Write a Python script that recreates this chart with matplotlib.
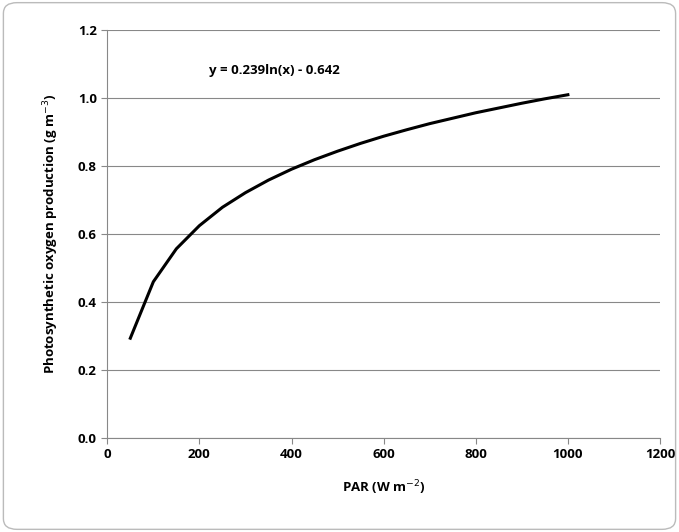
import matplotlib.pyplot as plt
from matplotlib.patches import FancyBboxPatch

par = [50, 100, 150, 200, 250, 300, 350, 400, 450, 500, 550, 600, 650, 700,
       750, 800, 850, 900, 950, 1000]
oxygen = [0.293, 0.459, 0.556, 0.624, 0.678, 0.721, 0.758, 0.790, 0.818, 0.843,
          0.866, 0.887, 0.906, 0.924, 0.940, 0.956, 0.970, 0.984, 0.997, 1.009]
equation = "y = 0.239ln(x) - 0.642"

plt.rcParams['font.family'] = ['Open Sans', 'DejaVu Sans']

fig = plt.figure(figsize=(6.79, 5.32), dpi=100)
fig.patches.append(FancyBboxPatch((0.005, 0.005), 0.99, 0.99,
                                  boxstyle="round,pad=0,rounding_size=0.02",
                                  transform=fig.transFigure, fill=False,
                                  edgecolor="#bbbbbb", linewidth=1))
ax = fig.add_axes([0.158, 0.177, 0.814, 0.767])
ax.plot(par, oxygen, color="black", linewidth=2.2)

ax.set_xlim(0, 1200)
ax.set_ylim(0, 1.2)
ax.set_xticks(range(0, 1201, 200))
ax.set_yticks([0, 0.2, 0.4, 0.6, 0.8, 1.0, 1.2])
ax.set_yticklabels([f"{v:.1f}" for v in ax.get_yticks()])
ax.grid(axis="y", color="#888888", linewidth=0.8)
ax.set_axisbelow(True)
for s in ("top", "right"):
    ax.spines[s].set_visible(False)
for s in ("left", "bottom"):
    ax.spines[s].set_color("#888888")
ax.tick_params(labelsize=9.5, length=4, color="#888888")
for lab in ax.get_xticklabels() + ax.get_yticklabels():
    lab.set_fontweight("bold")

ax.set_xlabel("PAR (W m$^{-2}$)", fontsize=9.5, fontweight="bold", labelpad=12)
ax.set_ylabel("Photosynthetic oxygen production (g m$^{-3}$)", fontsize=9.5,
              fontweight="bold", labelpad=12)
ax.text(220, 1.07, equation, fontsize=9.5, fontweight="bold")

fig.savefig("out.png", dpi=100)
